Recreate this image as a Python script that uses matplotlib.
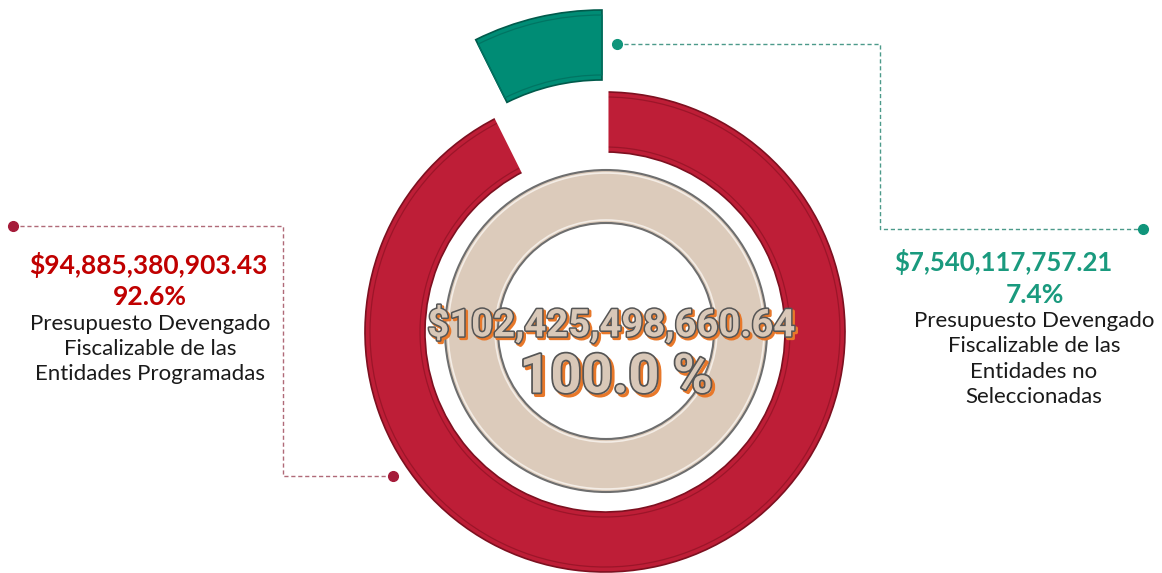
import numpy as np
import matplotlib
matplotlib.use("Agg")
import matplotlib.pyplot as plt
import matplotlib.patheffects as pe

# data
montos = [94885380903.43, 7540117757.21]
etiquetas = ["Presupuesto Devengado\nFiscalizable de las\nEntidades Programadas",
             "Presupuesto Devengado\nFiscalizable de las\nEntidades no\nSeleccionadas"]
colores = ["#BE1E37", "#008C75"]

total = sum(montos)
pct = [m / total * 100 for m in montos]

H = 573
fig = plt.figure(figsize=(11.62, 5.73), dpi=100)
ax = fig.add_axes([0, 0, 1, 1])

# outer ring, red part
w_red, _ = ax.pie(montos, radius=240, center=(605, H - 332), startangle=90,
                  counterclock=False, colors=[colores[0], "none"],
                  wedgeprops=dict(width=60, edgecolor="white", linewidth=5))
w_red[0].set_edgecolor("#7d1020")
w_red[0].set_linewidth(1.2)
w_red[1].set_zorder(5)  # white gap drawn over the bevel line
# bevel line
b_red, _ = ax.pie(montos, radius=235, center=(605, H - 332), startangle=90,
                  counterclock=False, colors=["none", "none"],
                  wedgeprops=dict(width=50, linewidth=0))
b_red[0].set_edgecolor("#9c1529")
b_red[0].set_linewidth(0.9)

# outer ring, green part (pulled out and bigger)
w_grn, _ = ax.pie(montos, radius=283, center=(602, H - 293), startangle=90,
                  counterclock=False, colors=["none", colores[1]],
                  wedgeprops=dict(width=70))
w_grn[1].set_edgecolor("#005a4b")
w_grn[1].set_linewidth(1.2)
w_grn[0].set_linewidth(0)
b_grn, _ = ax.pie(montos, radius=278, center=(602, H - 293), startangle=90,
                  counterclock=False, colors=["none", "none"],
                  wedgeprops=dict(width=60, linewidth=0))
b_grn[1].set_edgecolor("#007563")
b_grn[1].set_linewidth(0.9)

# inner beige ring (total)
w_tot, _ = ax.pie([total], radius=161, center=(606, H - 331), colors=["#DCCBBB"],
                  wedgeprops=dict(width=53, edgecolor="#6e6e6e", linewidth=1.5))
ax.pie([total], radius=158, center=(606, H - 331), colors=["none"],
       wedgeprops=dict(width=47, edgecolor="#f4ede6", linewidth=1.2))

ax.set_xlim(0, 1162)
ax.set_ylim(0, H)
ax.set_aspect("equal")
ax.axis("off")

# center text
t1 = ax.text(612, H - 325, "${:,.2f}".format(total), ha="center", va="center",
             fontsize=27.5, fontweight="bold", family="Roboto", color="#D9C8B8",
             zorder=6)
t1.set_path_effects([pe.Stroke(linewidth=2.5, foreground="#E8782A", offset=(1.5, -1.5)),
                     pe.Stroke(linewidth=2.2, foreground="#555555"), pe.Normal()])
t2 = ax.text(616, H - 378, "{:.1f} %".format(sum(pct)), ha="center", va="center",
             fontsize=39, fontweight="bold", family="Roboto", color="#D9C8B8",
             zorder=6)
t2.set_path_effects([pe.Stroke(linewidth=2.5, foreground="#E8782A", offset=(2, -2)),
                     pe.Stroke(linewidth=2.5, foreground="#555555"), pe.Normal()])

# left label
ax.text(148, H - 265, "${:,.2f}".format(montos[0]), ha="center", va="center",
        fontsize=19, fontweight="bold", family="Lato", color="#C00000")
ax.text(150, H - 297, "{:.1f}%".format(pct[0]), ha="center", va="center",
        fontsize=19, fontweight="bold", family="Lato", color="#C00000")
ax.text(150, H - 314, etiquetas[0], ha="center", va="top", fontsize=16,
        family="Lato", color="#1a1a1a", linespacing=1.32)

# right label
ax.text(1003, H - 262, "${:,.2f}".format(montos[1]), ha="center", va="center",
        fontsize=18.5, fontweight="bold", family="Lato", color="#1A9A7E")
ax.text(1035, H - 295, "{:.1f}%".format(pct[1]), ha="center", va="center",
        fontsize=19, fontweight="bold", family="Lato", color="#1A9A7E")
ax.text(1034, H - 311, etiquetas[1], ha="center", va="top", fontsize=16,
        family="Lato", color="#1a1a1a", linespacing=1.34)

# leader lines
ax.plot([13, 283, 283, 393], [H - 226, H - 226, H - 476, H - 476], ls=(0, (3, 2)),
        lw=1, color="#B06A78")
ax.plot([13, 393], [H - 226, H - 476], "o", ms=7, color="#A51C3A", ls="none")
ax.plot([617, 880, 880, 1143], [H - 44, H - 44, H - 229, H - 229], ls=(0, (3, 2)),
        lw=1, color="#4C9A8A")
ax.plot([617, 1143], [H - 44, H - 229], "o", ms=7, color="#10957B", ls="none")

fig.savefig("out.png", dpi=100, facecolor="white")
